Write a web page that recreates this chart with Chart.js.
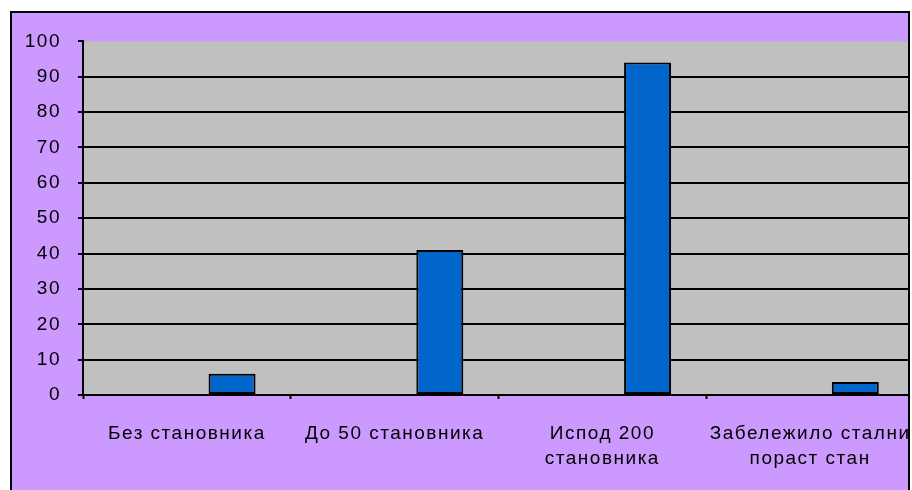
<!DOCTYPE html>
<html>
<head>
<meta charset="utf-8">
<script src="https://cdn.jsdelivr.net/npm/chart.js@4/dist/chart.umd.min.js"></script>
<style>
  html, body { margin: 0; padding: 0; background: #fff; overflow: hidden; }
  #frame {
    position: absolute; left: 10px; top: 11px;
    width: 896px; height: 490px;
    border: 2px solid #000;
    background: #cc99ff;
    overflow: hidden;
  }
  #wrap { position: absolute; left: 0; top: 0; width: 920px; height: 477px; }
</style>
</head>
<body>
<div id="frame"><div id="wrap"><canvas id="chart"></canvas></div></div>
<script>
// ── Data ─────────────────────────────────────────────────────────────────────
const categories = [
  ['Без становника'],
  ['До 50 становника'],
  ['Испод 200', 'становника'],
  ['Забележило стални', 'пораст стан'],
];
const empty_series = [null, null, null, null];
const values = [6, 41, 94, 3.7];
const y_ticks = [0, 10, 20, 30, 40, 50, 60, 70, 80, 90, 100];

// ── Plugins ──────────────────────────────────────────────────────────────────
const plot_bg = {
  id: 'plot_bg',
  beforeDraw(chart) {
    const { ctx, chartArea: a } = chart;
    ctx.letterSpacing = '1.5px';
    ctx.save();
    ctx.fillStyle = '#c0c0c0';
    ctx.fillRect(a.left, a.top, a.right - a.left, a.bottom - a.top);
    ctx.restore();
  },
};

// wider spacing for the category labels only
const x_spacing = {
  id: 'x_spacing',
  beforeDatasetsDraw(chart) { chart.ctx.letterSpacing = '1.5px'; },
};

const FONT = "'Liberation Sans', Arial, sans-serif";

new Chart(document.getElementById('chart'), {
  type: 'bar',
  data: {
    labels: categories,
    datasets: [
      { label: 'a', data: empty_series, backgroundColor: '#0066cc' },
      {
        label: 'b',
        data: values,
        backgroundColor: '#0066cc',
        borderColor: '#000',
        borderWidth: 2,
        borderSkipped: false,
      },
    ],
  },
  options: {
    responsive: true,
    maintainAspectRatio: false,
    animation: false,
    categoryPercentage: 0.87,
    barPercentage: 0.52,
    layout: { padding: { top: 27, right: 18, bottom: 0, left: 0 } },
    plugins: {
      legend: { display: false },
      tooltip: { enabled: false },
    },
    scales: {
      x: {
        offset: true,
        grid: {
          offset: true,
          drawOnChartArea: false,
          drawTicks: true,
          tickLength: 4,
          tickColor: '#000',
          tickWidth: 2,
        },
        border: { color: '#000', width: 2 },
        ticks: {
          color: '#000',
          font: { family: FONT, size: 19, lineHeight: 1.32 },
          padding: 22,
          maxRotation: 0,
          autoSkip: false,
        },
        beforeDraw: s => { s.ctx.letterSpacing = '1.8px'; },
        afterDraw: s => { s.ctx.letterSpacing = '1.5px'; },
        afterFit: s => { s.height = 95; },
      },
      y: {
        min: 0,
        max: 100,
        afterBuildTicks: s => { s.ticks = y_ticks.map(v => ({ value: v })); },
        grid: {
          color: c => (c.tick && c.tick.value === 100 ? 'rgba(0,0,0,0)' : '#000'),
          lineWidth: 2,
          tickLength: 5,
          tickColor: '#000',
          tickWidth: 2,
        },
        border: { color: '#000', width: 2 },
        ticks: {
          color: '#000',
          font: { family: FONT, size: 19 },
          padding: 17,
        },
        afterFit: s => { s.width = 71; },
      },
    },
  },
  plugins: [plot_bg, x_spacing],
});
</script>
</body>
</html>
